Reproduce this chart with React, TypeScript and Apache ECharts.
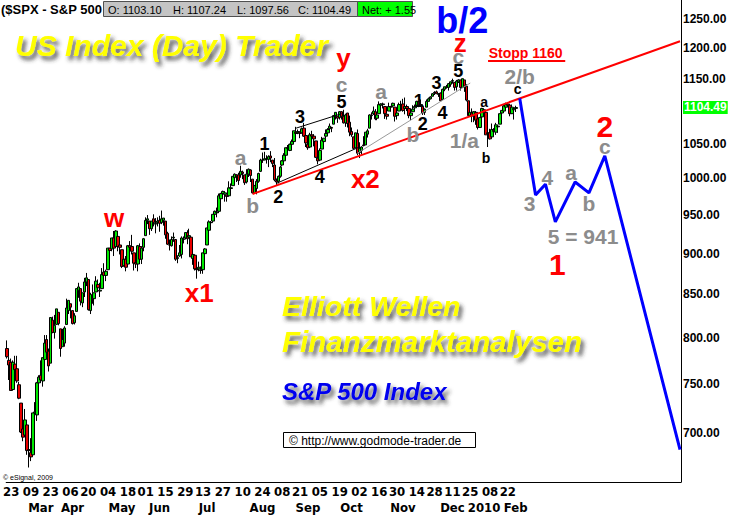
import React, { useEffect, useRef } from "react";
import * as echarts from "echarts";

// ---------- categories ----------
const START_DATE = "2009-02-19";
const CATEGORY_COUNT = 341;
const HOLIDAYS = [
  "2009-04-10", "2009-05-25", "2009-07-03", "2009-09-07", "2009-11-26", "2009-12-25",
  "2010-01-01", "2010-01-18", "2010-02-15", "2010-04-02", "2010-05-31", "2010-07-05",
];

// ---------- daily candles: [open, close, low, high] ----------
const CANDLES: number[][] = [
  // Feb 2009
  [788, 779, 777, 797], [775, 770, 754, 779], [773, 743, 743, 777], [744, 773, 744, 775], [771, 765, 751, 780],
  [766, 753, 751, 780], [749, 735, 734, 752],
  // Mar
  [730, 701, 700, 730], [704, 696, 692, 712], [698, 713, 698, 724], [708, 683, 679, 708], [684, 683, 667, 699],
  [681, 677, 673, 695], [679, 720, 679, 720], [720, 721, 713, 731], [718, 751, 712, 752], [751, 757, 746, 759],
  [759, 754, 751, 775], [753, 778, 747, 778], [776, 794, 765, 803], [798, 784, 780, 803], [785, 769, 763, 788],
  [772, 823, 772, 823], [820, 806, 805, 824], [806, 814, 799, 826], [815, 833, 815, 833], [829, 816, 814, 829],
  [810, 788, 779, 810], [790, 798, 790, 810],
  // Apr
  [794, 811, 790, 813], [815, 834, 815, 845], [831, 843, 827, 843], [839, 835, 822, 839], [831, 816, 815, 831],
  [817, 825, 815, 828], [830, 857, 830, 857], [855, 859, 846, 864], [857, 842, 837, 857], [840, 852, 835, 852],
  [853, 865, 847, 870], [865, 870, 860, 876], [868, 832, 831, 868], [831, 850, 827, 852], [847, 844, 839, 862],
  [845, 852, 837, 852], [853, 866, 853, 872], [862, 858, 853, 868], [854, 855, 847, 864], [857, 874, 857, 882],
  [877, 873, 868, 888],
  // May
  [873, 878, 866, 880], [880, 907, 880, 907], [907, 904, 897, 907], [906, 920, 903, 920], [920, 907, 897, 929],
  [909, 929, 909, 930], [922, 909, 903, 922], [911, 908, 899, 916], [905, 884, 882, 905], [885, 893, 885, 898],
  [893, 883, 878, 897], [887, 910, 887, 911], [910, 908, 902, 916], [909, 903, 899, 924], [901, 888, 879, 901],
  [889, 887, 882, 896], [887, 910, 878, 911], [909, 893, 892, 913], [893, 907, 887, 909], [908, 919, 903, 920],
  // Jun
  [923, 943, 923, 947], [943, 945, 938, 950], [942, 932, 924, 942], [932, 942, 929, 942], [945, 940, 935, 951],
  [938, 939, 926, 946], [940, 942, 935, 947], [943, 939, 928, 949], [940, 945, 938, 956], [943, 946, 936, 946],
  [942, 924, 919, 942], [926, 912, 911, 928], [911, 911, 904, 918], [910, 918, 909, 922], [920, 921, 915, 927],
  [918, 893, 891, 918], [894, 895, 888, 898], [897, 901, 896, 911], [899, 920, 894, 922], [918, 919, 913, 922],
  [920, 927, 918, 927], [927, 919, 912, 930],
  // Jul
  [921, 923, 920, 932], [921, 896, 896, 921], [894, 899, 886, 899], [898, 881, 879, 898], [881, 880, 869, 887],
  [881, 883, 878, 890], [880, 879, 875, 884], [880, 901, 875, 901], [900, 906, 899, 907], [911, 933, 911, 933],
  [930, 941, 927, 943], [940, 940, 934, 942], [942, 951, 940, 951], [951, 955, 942, 956], [953, 954, 947, 960],
  [955, 976, 953, 979], [972, 979, 965, 980], [979, 982, 972, 983], [978, 980, 968, 982], [977, 975, 968, 977],
  [976, 987, 976, 996], [986, 987, 984, 993],
  // Aug
  [990, 1003, 990, 1003], [1001, 1006, 996, 1007], [1005, 1003, 995, 1006], [1005, 997, 991, 1008], [1005, 1010, 1001, 1018],
  [1009, 1007, 999, 1011], [1005, 994, 991, 1005], [995, 1006, 993, 1013], [1006, 1013, 1002, 1014], [1012, 1004, 995, 1013],
  [999, 980, 979, 999], [980, 990, 980, 991], [986, 996, 978, 999], [996, 1007, 994, 1008], [1010, 1026, 1009, 1028],
  [1026, 1026, 1022, 1037], [1026, 1028, 1026, 1038], [1028, 1028, 1021, 1033], [1027, 1031, 1016, 1033], [1032, 1029, 1023, 1039],
  [1026, 1021, 1016, 1026],
  // Sep
  [1019, 998, 996, 1029], [997, 995, 991, 1000], [996, 1003, 993, 1004], [1003, 1016, 1001, 1018], [1019, 1025, 1017, 1026],
  [1025, 1033, 1022, 1036], [1033, 1044, 1029, 1044], [1044, 1043, 1037, 1048], [1040, 1049, 1039, 1050], [1049, 1053, 1043, 1056],
  [1053, 1069, 1053, 1069], [1067, 1065, 1060, 1075], [1066, 1068, 1064, 1071], [1067, 1065, 1058, 1067], [1066, 1072, 1066, 1074],
  [1073, 1061, 1060, 1081], [1062, 1051, 1045, 1066], [1049, 1044, 1041, 1053], [1045, 1063, 1045, 1066], [1063, 1061, 1055, 1069],
  [1061, 1057, 1046, 1064],
  // Oct
  [1054, 1030, 1029, 1054], [1029, 1025, 1020, 1031], [1026, 1040, 1026, 1043], [1042, 1055, 1042, 1060], [1053, 1058, 1051, 1058],
  [1061, 1065, 1058, 1071], [1066, 1071, 1063, 1073], [1072, 1076, 1068, 1080], [1074, 1073, 1067, 1075], [1079, 1092, 1079, 1093],
  [1091, 1097, 1086, 1097], [1091, 1088, 1081, 1091], [1089, 1098, 1086, 1099], [1098, 1091, 1086, 1099], [1091, 1081, 1080, 1101],
  [1081, 1093, 1075, 1095], [1096, 1080, 1074, 1096], [1082, 1067, 1061, 1092], [1068, 1063, 1060, 1074], [1060, 1043, 1042, 1060],
  [1044, 1066, 1044, 1066], [1065, 1036, 1033, 1071],
  // Nov
  [1037, 1043, 1029, 1052], [1040, 1045, 1034, 1046], [1048, 1047, 1046, 1061], [1048, 1067, 1048, 1067], [1064, 1069, 1059, 1072],
  [1073, 1093, 1073, 1094], [1092, 1093, 1086, 1097], [1095, 1099, 1093, 1106], [1098, 1087, 1085, 1102], [1088, 1093, 1085, 1097],
  [1095, 1109, 1095, 1114], [1108, 1110, 1102, 1111], [1109, 1110, 1103, 1112], [1106, 1095, 1087, 1106], [1094, 1091, 1086, 1094],
  [1099, 1106, 1099, 1112], [1105, 1106, 1098, 1107], [1107, 1111, 1106, 1112], [1105, 1091, 1083, 1105], [1092, 1096, 1086, 1098],
  // Dec
  [1099, 1109, 1099, 1112], [1109, 1109, 1105, 1115], [1110, 1100, 1098, 1118], [1103, 1106, 1094, 1120], [1106, 1103, 1099, 1109],
  [1103, 1092, 1088, 1103], [1092, 1096, 1085, 1097], [1098, 1102, 1098, 1108], [1104, 1106, 1102, 1109], [1108, 1114, 1108, 1115],
  [1114, 1108, 1105, 1114], [1108, 1109, 1107, 1117], [1106, 1096, 1093, 1106], [1097, 1102, 1093, 1103], [1105, 1114, 1105, 1117],
  [1114, 1118, 1114, 1120], [1118, 1121, 1117, 1122], [1122, 1126, 1122, 1127], [1127, 1128, 1124, 1130], [1129, 1126, 1126, 1131],
  [1125, 1126, 1121, 1127], [1127, 1115, 1115, 1128],
  // Jan 2010
  [1117, 1133, 1117, 1134], [1133, 1137, 1130, 1137], [1136, 1137, 1134, 1140], [1136, 1142, 1131, 1143], [1141, 1145, 1137, 1145],
  [1146, 1147, 1142, 1150], [1144, 1136, 1131, 1144], [1137, 1146, 1131, 1148], [1145, 1148, 1143, 1149], [1148, 1136, 1131, 1148],
  [1136, 1150, 1135, 1150], [1148, 1138, 1129, 1148], [1138, 1116, 1114, 1141], [1115, 1092, 1090, 1115], [1092, 1097, 1092, 1103],
  [1096, 1092, 1082, 1103], [1091, 1098, 1082, 1099], [1097, 1085, 1078, 1099], [1087, 1074, 1071, 1097],
  // Feb 2010
  [1074, 1089, 1074, 1090], [1090, 1103, 1086, 1104], [1101, 1097, 1094, 1102], [1097, 1063, 1063, 1097], [1065, 1066, 1045, 1067],
  [1066, 1057, 1056, 1072], [1060, 1071, 1060, 1080], [1070, 1068, 1061, 1073], [1067, 1078, 1063, 1081], [1075, 1076, 1066, 1077],
  [1079, 1095, 1079, 1095], [1096, 1100, 1094, 1100], [1099, 1107, 1097, 1109], [1105, 1109, 1101, 1112], [1110, 1108, 1105, 1112],
  [1108, 1095, 1091, 1108], [1095, 1105, 1095, 1109], [1101, 1103, 1086, 1103], [1103.1, 1104.49, 1097.56, 1107.24],
];

// ---------- axis labels ----------
const DAY_LABELS = [
  "2009-02-23", "2009-03-09", "2009-03-23", "2009-04-06", "2009-04-20", "2009-05-04", "2009-05-18",
  "2009-06-01", "2009-06-15", "2009-06-29", "2009-07-13", "2009-07-27", "2009-08-10", "2009-08-24",
  "2009-09-08", "2009-09-21", "2009-10-05", "2009-10-19", "2009-11-02", "2009-11-16", "2009-11-30",
  "2009-12-14", "2009-12-28", "2010-01-11", "2010-01-25", "2010-02-08", "2010-02-22",
];
const MONTH_LABEL_INDEX = [17, 33, 58, 77, 101, 129, 152, 174, 200, 225, 241, 257];
const MONTH_LABEL_TEXT = ["Mar", "Apr", "May", "Jun", "Jul", "Aug", "Sep", "Oct", "Nov", "Dec", "2010", "Feb"];
const Y_TICKS = [700, 750, 800, 850, 900, 950, 1000, 1050, 1150, 1200, 1250];
const LAST_PRICE = 1104.49;

// ---------- drawn lines: [category index, price] ----------
const TREND_LINE = [[124, 978.5], [340, 1212]];
const PROJECTION = [[259, 1119], [267, 977], [272, 992], [277, 941], [287, 995], [294, 980], [302, 1032], [340, 684]];
const CHANNEL_UPPER = [[146, 1073], [169, 1095]];
const CHANNEL_LOWER = [[136, 993], [178, 1045]];
const CHANNEL_GRAY = [[177, 1036], [234, 1143]];
const STOPP_UNDERLINE = [[243, 1179], [282, 1179]];

// ---------- wave annotations: [text, category index, price, style] ----------
const ANNOTATIONS: [string, number, number, string][] = [
  ["w", 54, 946, "red"], ["x1", 97, 852, "red"],
  ["a", 118, 1030, "gray"], ["b", 124, 963, "gray"],
  ["1", 130, 1049, "black"], ["2", 137, 974, "black"], ["3", 148, 1090, "black"], ["4", 158, 1002, "black"],
  ["5", 169, 1113, "black"], ["c", 169, 1141, "gray"], ["y", 170, 1184, "red"], ["x2", 181, 999, "red"],
  ["a", 189, 1130, "gray"], ["b", 205, 1064, "gray"],
  ["1", 208, 1114, "black"], ["2", 210, 1079, "black"], ["3", 217, 1143, "black"], ["4", 220, 1096, "black"],
  ["5", 228, 1162, "black"], ["c", 228, 1187, "gray"], ["z", 229, 1209, "red"], ["b/2", 230, 1248, "blue"],
  ["1/a", 231, 1055, "gray"], ["a", 241, 1113, "small"], ["b", 242, 1029, "small"], ["c", 258, 1133, "small"],
  ["2/b", 259, 1154, "gray"], ["Stopp 1160", 262, 1192, "stop"],
  ["3", 264, 966, "gray"], ["4", 273, 1002, "gray"], ["a", 285, 1009, "gray"], ["b", 294, 966, "gray"],
  ["c", 302, 1046, "gray"], ["2", 302, 1076, "redBig"], ["5 = 941", 291, 922, "gray"], ["1", 278, 887, "redBig"],
];

const FONT = '"Liberation Sans", Arial, sans-serif';
const NARROW = '"Liberation Sans Narrow", "DejaVu Sans Condensed", Arial, sans-serif';

const ANNOTATION_STYLE: Record<string, { color: string; fontSize: number }> = {
  red: { color: "#ff0000", fontSize: 26 },
  redBig: { color: "#ff0000", fontSize: 30 },
  gray: { color: "#8c8c8c", fontSize: 21 },
  black: { color: "#000000", fontSize: 18 },
  small: { color: "#000000", fontSize: 14 },
  blue: { color: "#0000ff", fontSize: 36 },
  stop: { color: "#ff0000", fontSize: 14 },
};

function buildDates(): string[] {
  const out: string[] = [];
  const d = new Date(START_DATE + "T00:00:00Z");
  while (out.length < CATEGORY_COUNT) {
    const dow = d.getUTCDay();
    const s = d.toISOString().slice(0, 10);
    if (dow !== 0 && dow !== 6 && HOLIDAYS.indexOf(s) < 0) out.push(s);
    d.setUTCDate(d.getUTCDate() + 1);
  }
  return out;
}

function lineSeries(data: number[][], color: string, width: number, z = 3) {
  return {
    type: "line",
    data,
    symbol: "none",
    silent: true,
    z,
    lineStyle: { color, width },
  };
}

function shadowText(text: string, x: number, y: number, size: number, fill: string) {
  return {
    type: "text",
    x,
    y,
    z: 20,
    style: {
      text,
      fill,
      font: `italic bold ${size}px ${FONT}`,
      verticalAlign: "middle",
      textShadowColor: "rgba(50,50,50,0.8)",
      textShadowBlur: 4,
      textShadowOffsetX: 3,
      textShadowOffsetY: 4,
    },
  };
}

export default function App() {
  const ref = useRef<HTMLDivElement>(null);

  useEffect(() => {
    if (!ref.current) return;
    const chart = echarts.init(ref.current, null, { renderer: "svg" });
    const dates = buildDates();
    const daySet = new Set(DAY_LABELS);
    const monthMap: Record<number, string> = {};
    MONTH_LABEL_INDEX.forEach((i, k) => (monthMap[i] = MONTH_LABEL_TEXT[k]));

    const option: any = {
      animation: false,
      backgroundColor: "#ffffff",
      grid: { left: 0, right: 49, top: 0, bottom: 34, containLabel: false },
      xAxis: [
        {
          type: "category",
          data: dates,
          boundaryGap: true,
          axisLine: { show: true, lineStyle: { color: "#000", width: 1 } },
          axisTick: { show: false },
          splitLine: { show: false },
          axisLabel: {
            interval: 0,
            formatter: (v: string) => (daySet.has(v) ? v.slice(8, 10) : ""),
            hideOverlap: false,
            color: "#000",
            fontFamily: NARROW,
            fontWeight: "bold",
            fontSize: 13,
            margin: 3,
          },
        },
        {
          type: "category",
          data: dates,
          position: "bottom",
          offset: 16,
          boundaryGap: true,
          axisLine: { show: false },
          axisTick: { show: false },
          splitLine: { show: false },
          axisLabel: {
            interval: 0,
            formatter: (_v: string, i: number) => monthMap[i] || "",
            hideOverlap: false,
            color: "#000",
            fontFamily: NARROW,
            fontWeight: "bold",
            fontSize: 13,
            margin: 3,
          },
        },
      ],
      yAxis: {
        type: "log",
        logBase: 10,
        min: 653.6,
        max: 1284,
        position: "right",
        axisLine: { show: true, lineStyle: { color: "#000", width: 1 } },
        axisTick: { show: false },
        axisLabel: { show: false },
        splitLine: { show: false },
        minorTick: { show: false },
        minorSplitLine: { show: false },
      },
      series: [
        {
          type: "candlestick",
          data: CANDLES,
          barWidth: 3,
          z: 2,
          itemStyle: {
            color: "#00e800",
            color0: "#e80000",
            borderColor: "#000000",
            borderColor0: "#000000",
            borderWidth: 1,
          },
        },
        lineSeries(CHANNEL_UPPER, "#000000", 1),
        lineSeries(CHANNEL_LOWER, "#000000", 1),
        lineSeries(CHANNEL_GRAY, "#9a9a9a", 1),
        lineSeries(TREND_LINE, "#ff0000", 2, 4),
        lineSeries(PROJECTION, "#0000ff", 3, 4),
        lineSeries(STOPP_UNDERLINE, "#ff0000", 2, 4),
        {
          type: "line",
          data: [],
          clip: false,
          silent: true,
          markLine: {
            silent: true,
            symbol: "none",
            animation: false,
            lineStyle: { color: "rgba(0,0,0,0)", width: 0 },
            label: {
              show: true,
              position: "end",
              distance: 2,
              formatter: (p: any) => Number(p.value).toFixed(2),
              color: "#000",
              fontFamily: FONT,
              fontWeight: "bold",
              fontSize: 12,
            },
            data: [
              ...Y_TICKS.map((v) => ({ yAxis: v })),
              {
                yAxis: LAST_PRICE,
                label: { backgroundColor: "#00ff00", color: "#ffffff", padding: [1, 1, 0, 1] },
              },
            ],
          },
        },
        {
          type: "scatter",
          symbolSize: 1,
          silent: true,
          z: 10,
          itemStyle: { color: "rgba(0,0,0,0)", opacity: 1 },
          data: ANNOTATIONS.map(([t, i, p, s]) => ({
            value: [i, p],
            label: {
              show: true,
              position: "inside",
              formatter: t,
              opacity: 1,
              color: ANNOTATION_STYLE[s].color,
              fontSize: ANNOTATION_STYLE[s].fontSize,
              fontWeight: "bold",
              fontFamily: FONT,
            },
          })),
        },
      ],
      graphic: [
        {
          type: "text",
          x: 1,
          y: 9,
          style: { text: "($SPX - S&P 500", fill: "#000", font: `bold 13px ${FONT}`, verticalAlign: "middle" },
        },
        { type: "rect", shape: { x: 103.5, y: 1.5, width: 254, height: 15 }, style: { fill: "#c4c4c4", stroke: "#505050", lineWidth: 1 } },
        { type: "rect", shape: { x: 357.5, y: 1.5, width: 55, height: 15 }, style: { fill: "#00ff00", stroke: "#505050", lineWidth: 1 } },
        { type: "text", x: 108, y: 9.5, style: { text: "O: 1103.10", fill: "#000", font: `11px ${FONT}`, verticalAlign: "middle" } },
        { type: "text", x: 173, y: 9.5, style: { text: "H: 1107.24", fill: "#000", font: `11px ${FONT}`, verticalAlign: "middle" } },
        { type: "text", x: 237, y: 9.5, style: { text: "L: 1097.56", fill: "#000", font: `11px ${FONT}`, verticalAlign: "middle" } },
        { type: "text", x: 298, y: 9.5, style: { text: "C: 1104.49", fill: "#000", font: `11px ${FONT}`, verticalAlign: "middle" } },
        { type: "text", x: 362, y: 9.5, style: { text: "Net: + 1.55", fill: "#000", font: `11px ${FONT}`, verticalAlign: "middle" } },
        shadowText("US Index (Day) Trader", 15, 45, 30, "#ffff00"),
        shadowText("Elliott Wellen", 282, 306, 28.5, "#ffff00"),
        shadowText("Finanzmarktanalysen", 282, 341, 29.5, "#ffff00"),
        shadowText("S&P 500 Index", 282, 391, 24, "#0000ee"),
        { type: "rect", shape: { x: 283.5, y: 432.5, width: 192, height: 15 }, style: { fill: "#fff", stroke: "#000", lineWidth: 1 } },
        {
          type: "text",
          x: 289,
          y: 440.5,
          style: { text: "© http://www.godmode-trader.de", fill: "#000", font: `12px ${FONT}`, verticalAlign: "middle" },
        },
        {
          type: "text",
          x: 3,
          y: 477,
          style: { text: "© eSignal, 2009", fill: "#000", font: `7px ${FONT}`, verticalAlign: "middle" },
        },
      ],
    };

    chart.setOption(option);
    return () => chart.dispose();
  }, []);

  return (
    <div
      ref={ref}
      style={{ position: "fixed", left: 0, top: 0, width: 730, height: 516, background: "#fff" }}
    />
  );
}
